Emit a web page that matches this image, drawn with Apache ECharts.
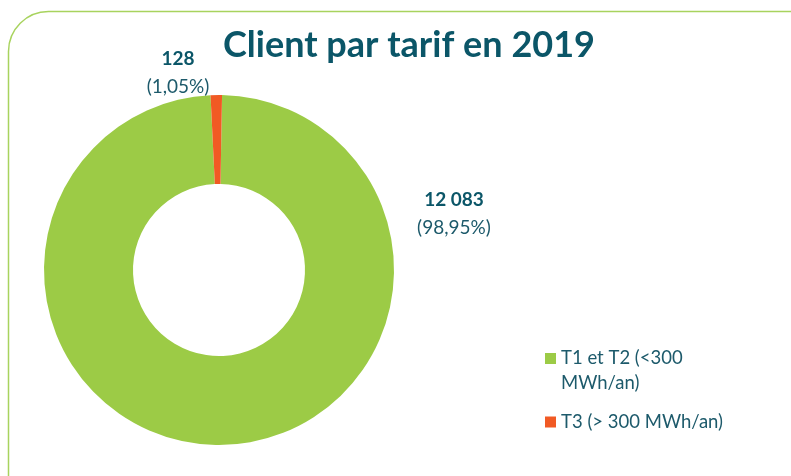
<!DOCTYPE html>
<html>
<head>
<meta charset="utf-8">
<script src="https://cdn.jsdelivr.net/npm/echarts@6/dist/echarts.min.js"></script>
<style>
  html, body { margin: 0; padding: 0; background: #fff; }
  #chart { width: 791px; height: 476px; }
</style>
</head>
<body>
<div id="chart"></div>
<script>
// données du graphique
const categories = ["T1 et T2 (<300 MWh/an)", "T3 (> 300 MWh/an)"];
const clients = [12083, 128];
const colors = ["#9ccb46", "#f15a24"];

const total = clients.reduce((a, b) => a + b, 0);
const fmtNum = v => String(v).replace(/\B(?=(\d{3})+(?!\d))/g, " ");
const fmtPct = v => (v / total * 100).toFixed(2).replace(".", ",") + "%";

// position des étiquettes (à droite pour T1/T2, en haut pour T3)
const labelPos = [[454, 214], [178, 73]];

// icônes de légende : carré en haut (texte sur 2 lignes) ou au milieu
const iconTop = "path://M0,0L11,0L11,11L0,11Z M0,36L0,36";
const iconMid = "path://M0,0L0,0 M0,12.5L11,12.5L11,23.5L0,23.5Z M0,36L0,36";

const chart = echarts.init(document.getElementById("chart"));
const option = {
  backgroundColor: "#fff",
  title: {
    text: "Client par tarif en 2019",
    left: 218,
    top: 22,
    textStyle: { fontFamily: "Lato", fontWeight: "bold", fontSize: 36, color: "#0b5668" }
  },
  graphic: [{
    type: "rect",
    shape: { x: 8.5, y: 11.5, width: 900, height: 600, r: 40 },
    style: { fill: "none", stroke: "#a8d35e", lineWidth: 1.5 },
    silent: true
  }],
  legend: {
    orient: "vertical",
    left: 540,
    top: 341,
    itemWidth: 11,
    itemHeight: 36,
    itemGap: 8,
    itemStyle: { borderWidth: 0 },
    data: [
      { name: categories[0], icon: iconTop },
      { name: categories[1], icon: iconMid }
    ],
    formatter: name => name === categories[0] ? name.replace(" MWh", "\nMWh") : name,
    textStyle: {
      fontFamily: "Lato",
      fontSize: 18.5,
      color: "#1d5a6b",
      lineHeight: 25
    }
  },
  series: [{
    type: "pie",
    center: [219, 270],
    radius: [86, 175],
    startAngle: 89,
    clockwise: true,
    color: colors,
    silent: true,
    data: categories.map((c, i) => ({ name: c, value: clients[i] })),
    label: {
      show: true,
      position: "outside",
      formatter: p => "{b|" + fmtNum(p.value) + "}\n{p|(" + fmtPct(p.value) + ")}",
      rich: {
        b: { fontFamily: "Lato", fontWeight: "bold", fontSize: 19, color: "#0b5668", lineHeight: 28, align: "center" },
        p: { fontFamily: "Lato", fontSize: 19, color: "#1d5a6b", lineHeight: 28, align: "center" }
      }
    },
    labelLine: { show: false },
    labelLayout: p => ({
      x: labelPos[p.dataIndex][0],
      y: labelPos[p.dataIndex][1],
      align: "center",
      verticalAlign: "middle"
    })
  }]
};
chart.setOption(option);
</script>
</body>
</html>
